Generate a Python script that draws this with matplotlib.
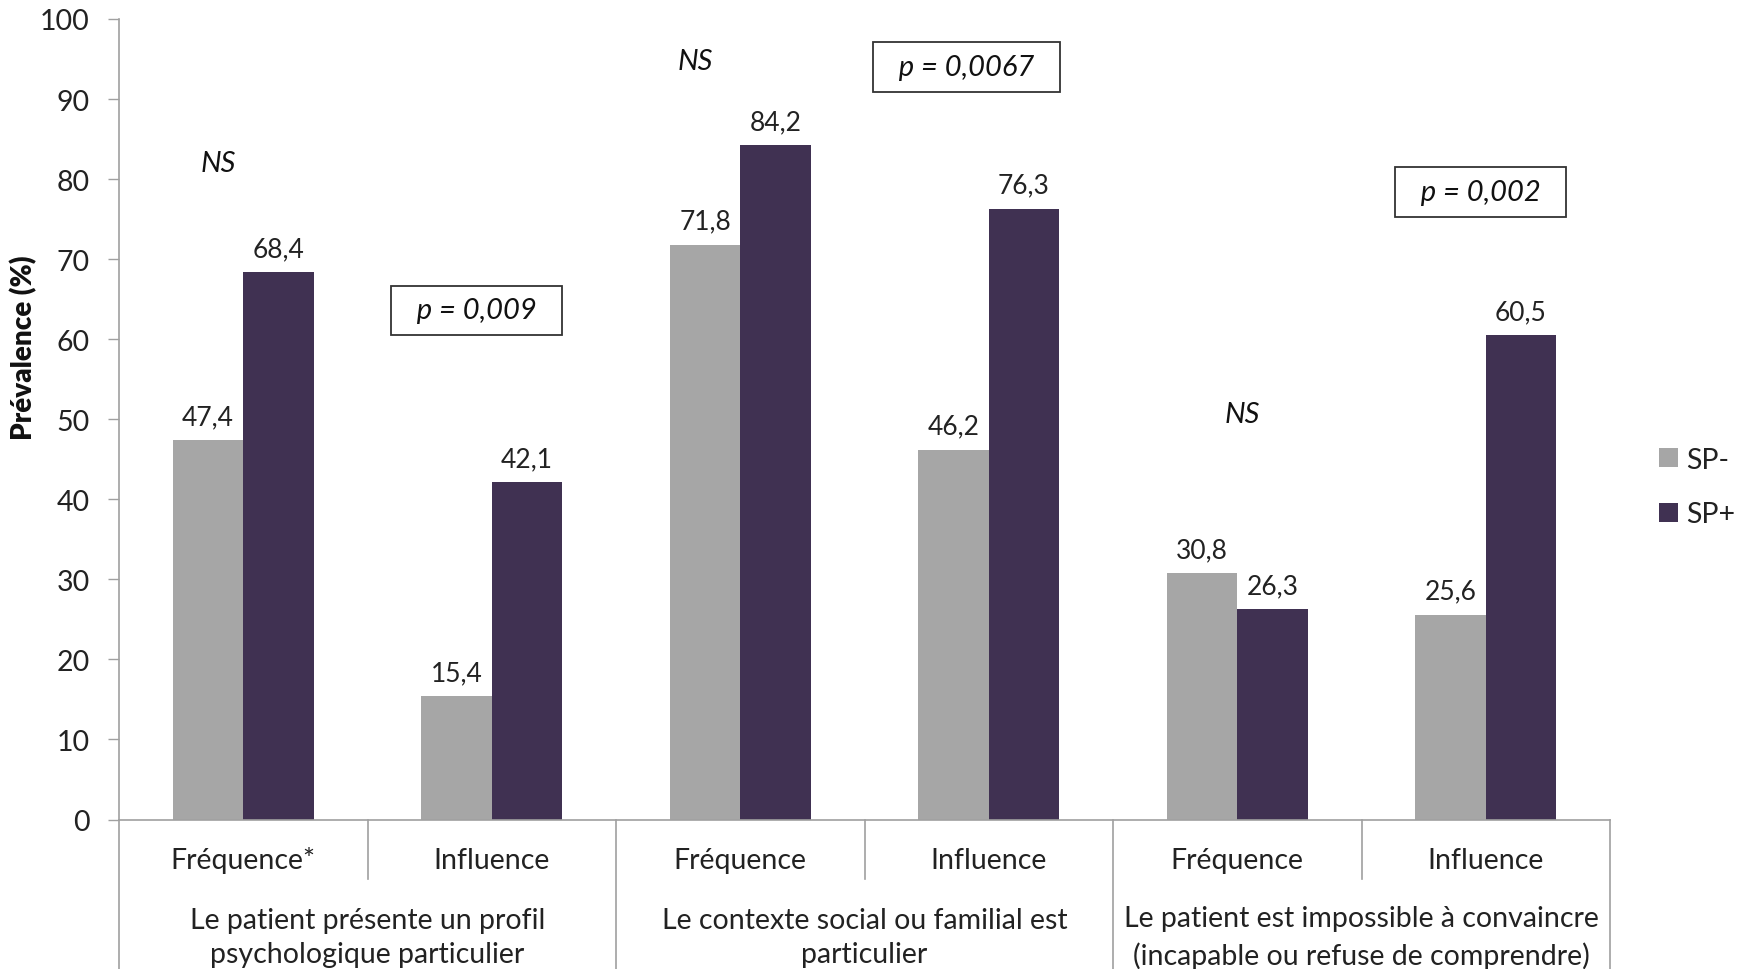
import matplotlib.pyplot as plt
import matplotlib.transforms as mtransforms
from matplotlib.lines import Line2D

# prévalence (%) par sous-catégorie
sub_labels = ["Fréquence*", "Influence", "Fréquence", "Influence", "Fréquence", "Influence"]
group_labels = [
    "Le patient présente un profil\npsychologique particulier",
    "Le contexte social ou familial est\nparticulier",
    "Le patient est impossible à convaincre\n(incapable ou refuse de comprendre)",
]
sp_minus = [47.4, 15.4, 71.8, 46.2, 30.8, 25.6]
sp_plus = [68.4, 42.1, 84.2, 76.3, 26.3, 60.5]

# annotations de significativité : (texte, x, y, encadré)
sig_notes = [
    ("NS", 0.40, 82.0, False),
    ("p = 0,009", 1.44, 63.6, True),
    ("NS", 2.32, 94.8, False),
    ("p = 0,0067", 3.41, 94.0, True),
    ("NS", 4.52, 50.7, False),
    ("p = 0,002", 5.48, 78.4, True),
]

c_minus = "#a6a6a6"
c_plus = "#403152"
c_axis = "#a0a0a0"
fs = 20.5

plt.rcParams["font.family"] = ["Lato", "DejaVu Sans"]

fig = plt.figure(figsize=(17.48, 9.70), dpi=100)
ax = fig.add_axes([119 / 1748, 1 - 820.5 / 970, (1610 - 119) / 1748, (820.5 - 20) / 970])

n = len(sub_labels)
centers = [i + 0.5 for i in range(n)]
w = 0.283
ax.bar([c - w / 2 for c in centers], sp_minus, width=w, color=c_minus, label="SP-")
ax.bar([c + w / 2 for c in centers], sp_plus, width=w, color=c_plus, label="SP+")

for c, a, b in zip(centers, sp_minus, sp_plus):
    for x, v in ((c - w / 2, a), (c + w / 2, b)):
        ax.annotate(f"{v:.1f}".replace(".", ","), (x, v), xytext=(0, 8),
                    textcoords="offset points", ha="center", va="bottom",
                    fontsize=19, color="#222222")

for txt, x, y, boxed in sig_notes:
    if boxed:
        ax.text(x, y, f"  {txt}  ", ha="center", va="center", fontsize=21,
                style="italic", color="#111111",
                bbox=dict(boxstyle="square,pad=0.4", fc="white", ec="#333333", lw=1.3))
    else:
        ax.text(x, y, txt, ha="center", va="center", fontsize=21, style="italic",
                color="#111111")

ax.set_xlim(0, n)
ax.set_ylim(0, 100)
ax.set_yticks(range(0, 101, 10))
ax.tick_params(axis="y", labelsize=fs, length=8, width=1, color=c_axis, pad=13,
               labelcolor="#222222")
ax.set_xticks([])
for s in ("top", "right", "bottom"):
    ax.spines[s].set_visible(False)
ax.spines["left"].set_color(c_axis)
ax.spines["left"].set_linewidth(1.2)

# axe horizontal à deux niveaux
trans = mtransforms.blended_transform_factory(ax.transData, fig.transFigure)
y0 = 1 - 820.5 / 970
y_short = 1 - 880 / 970
ax.add_line(Line2D([0, n], [y0, y0], transform=trans, color=c_axis, lw=1.2, clip_on=False))
for x in range(n + 1):
    y_end = y_short if x % 2 == 1 else 0.0
    ax.add_line(Line2D([x, x], [y0, y_end], transform=trans, color=c_axis, lw=1.2,
                       clip_on=False))
for c, lab in zip(centers, sub_labels):
    ax.text(c, 1 - 861 / 970, lab, transform=trans, ha="center", va="center",
            fontsize=fs, color="#222222")
for g, lab in enumerate(group_labels):
    ax.text(2 * g + 1, 1 - 938 / 970, lab, transform=trans, ha="center", va="center",
            fontsize=fs, color="#222222", linespacing=1.42)

fig.text(24 / 1748, 1 - 348 / 970, "Prévalence (%)", rotation=90, ha="center",
         va="center", fontsize=20, fontweight="heavy", color="#111111")

fig.legend(loc="center left", bbox_to_anchor=(1659 / 1748, 1 - 488 / 970),
           frameon=False, fontsize=fs, handlelength=0.65, handleheight=0.65,
           handletextpad=0.3, labelspacing=1.0, labelcolor="#222222",
           borderaxespad=0, borderpad=0)

fig.savefig("out.png", dpi=100)
